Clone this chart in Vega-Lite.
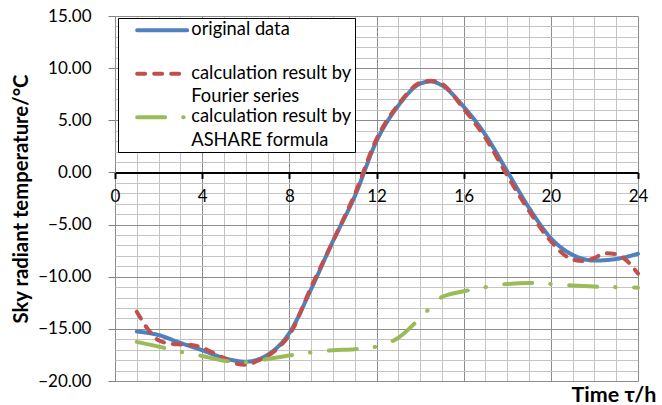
{
  "$schema": "https://vega.github.io/schema/vega-lite/v6.json",
  "width": 523,
  "height": 365,
  "autosize": {"type": "none"},
  "padding": {"left": 115, "top": 16, "right": 24, "bottom": 24},
  "background": "white",
  "config": {
    "view": {"stroke": null},
    "font": "Lato",
    "legend": {
      "orient": "none",
      "legendX": 3,
      "legendY": 2,
      "fillColor": "white",
      "strokeColor": "black",
      "padding": 3,
      "symbolType": "M-5,0H5",
      "symbolSize": 100,
      "symbolStrokeWidth": 4,
      "symbolOffset": 32,
      "labelOffset": 20,
      "labelFont": "Lato",
      "labelFontSize": 18.3,
      "labelColor": "black",
      "labelBaseline": "alphabetic",
      "labelLimit": 400,
      "rowPadding": 1.5
    }
  },
  "data": {
    "values": [
      {"t": 1, "s": "original data", "v": -15.25},
      {"t": 2, "s": "original data", "v": -15.6},
      {"t": 3, "s": "original data", "v": -16.35},
      {"t": 4, "s": "original data", "v": -17.05},
      {"t": 5, "s": "original data", "v": -17.8},
      {"t": 6, "s": "original data", "v": -18.15},
      {"t": 7, "s": "original data", "v": -17.5},
      {"t": 8, "s": "original data", "v": -15.4},
      {"t": 9, "s": "original data", "v": -11.2},
      {"t": 10, "s": "original data", "v": -6.6},
      {"t": 11, "s": "original data", "v": -2.3},
      {"t": 12, "s": "original data", "v": 3.0},
      {"t": 13, "s": "original data", "v": 6.4},
      {"t": 14, "s": "original data", "v": 8.5},
      {"t": 14.5, "s": "original data", "v": 8.72},
      {"t": 15, "s": "original data", "v": 8.35},
      {"t": 16, "s": "original data", "v": 6.3},
      {"t": 17, "s": "original data", "v": 3.6},
      {"t": 18, "s": "original data", "v": 0.1},
      {"t": 19, "s": "original data", "v": -3.4},
      {"t": 20, "s": "original data", "v": -6.3},
      {"t": 21, "s": "original data", "v": -7.9},
      {"t": 22, "s": "original data", "v": -8.45},
      {"t": 23, "s": "original data", "v": -8.3},
      {"t": 24, "s": "original data", "v": -7.8},
      {"t": 1, "s": "Fourier series", "v": -13.35},
      {"t": 1.5, "s": "Fourier series", "v": -15.0},
      {"t": 2, "s": "Fourier series", "v": -16.1},
      {"t": 2.5, "s": "Fourier series", "v": -16.4},
      {"t": 3, "s": "Fourier series", "v": -16.5},
      {"t": 3.5, "s": "Fourier series", "v": -16.55},
      {"t": 4, "s": "Fourier series", "v": -16.8},
      {"t": 4.5, "s": "Fourier series", "v": -17.3},
      {"t": 5, "s": "Fourier series", "v": -17.8},
      {"t": 5.5, "s": "Fourier series", "v": -18.3},
      {"t": 6, "s": "Fourier series", "v": -18.45},
      {"t": 6.5, "s": "Fourier series", "v": -18.1},
      {"t": 7, "s": "Fourier series", "v": -17.6},
      {"t": 7.5, "s": "Fourier series", "v": -16.8},
      {"t": 8, "s": "Fourier series", "v": -15.6},
      {"t": 9, "s": "Fourier series", "v": -11.0},
      {"t": 10, "s": "Fourier series", "v": -6.6},
      {"t": 11, "s": "Fourier series", "v": -2.1},
      {"t": 12, "s": "Fourier series", "v": 3.2},
      {"t": 13, "s": "Fourier series", "v": 6.5},
      {"t": 14, "s": "Fourier series", "v": 8.6},
      {"t": 14.5, "s": "Fourier series", "v": 8.8},
      {"t": 15, "s": "Fourier series", "v": 8.5},
      {"t": 16, "s": "Fourier series", "v": 6.1},
      {"t": 17, "s": "Fourier series", "v": 3.3},
      {"t": 18, "s": "Fourier series", "v": -0.3},
      {"t": 19, "s": "Fourier series", "v": -3.7},
      {"t": 20, "s": "Fourier series", "v": -6.6},
      {"t": 20.5, "s": "Fourier series", "v": -7.7},
      {"t": 21, "s": "Fourier series", "v": -8.35},
      {"t": 21.5, "s": "Fourier series", "v": -8.5},
      {"t": 22, "s": "Fourier series", "v": -8.2},
      {"t": 22.5, "s": "Fourier series", "v": -7.75},
      {"t": 23, "s": "Fourier series", "v": -7.85},
      {"t": 23.5, "s": "Fourier series", "v": -8.5},
      {"t": 24, "s": "Fourier series", "v": -9.7},
      {"t": 1, "s": "ASHARE formula", "v": -16.25},
      {"t": 2, "s": "ASHARE formula", "v": -16.7},
      {"t": 3, "s": "ASHARE formula", "v": -17.2},
      {"t": 4, "s": "ASHARE formula", "v": -17.6},
      {"t": 5, "s": "ASHARE formula", "v": -18.05},
      {"t": 6, "s": "ASHARE formula", "v": -18.2},
      {"t": 7, "s": "ASHARE formula", "v": -17.9},
      {"t": 8, "s": "ASHARE formula", "v": -17.55},
      {"t": 9, "s": "ASHARE formula", "v": -17.25},
      {"t": 10, "s": "ASHARE formula", "v": -17.05},
      {"t": 11, "s": "ASHARE formula", "v": -16.95},
      {"t": 12, "s": "ASHARE formula", "v": -16.7},
      {"t": 13, "s": "ASHARE formula", "v": -15.85},
      {"t": 14, "s": "ASHARE formula", "v": -13.95},
      {"t": 14.5, "s": "ASHARE formula", "v": -12.9},
      {"t": 15, "s": "ASHARE formula", "v": -11.95},
      {"t": 16, "s": "ASHARE formula", "v": -11.4},
      {"t": 17, "s": "ASHARE formula", "v": -11.0},
      {"t": 18, "s": "ASHARE formula", "v": -10.7},
      {"t": 19, "s": "ASHARE formula", "v": -10.6},
      {"t": 20, "s": "ASHARE formula", "v": -10.7},
      {"t": 21, "s": "ASHARE formula", "v": -10.85},
      {"t": 22, "s": "ASHARE formula", "v": -10.95},
      {"t": 23, "s": "ASHARE formula", "v": -11.0},
      {"t": 24, "s": "ASHARE formula", "v": -11.05}
    ]
  },
  "encoding": {
    "color": {
      "field": "s",
      "type": "nominal",
      "scale": {
        "domain": ["original data", "Fourier series", "ASHARE formula"],
        "range": ["#4F81BD", "#C0504D", "#9BBB59"]
      },
      "legend": {
        "title": null,
        "labelExpr": "datum.label == 'original data' ? ['original data', ''] : ['calculation result by      ', datum.label]",
        "encode": {
          "labels": {"update": {"dy": {"value": 5}, "lineHeight": {"value": 23.5}}},
          "symbols": {"update": {"strokeCap": {"value": "round"}}}
        }
      }
    },
    "strokeDash": {
      "field": "s",
      "type": "nominal",
      "scale": {
        "domain": ["original data", "Fourier series", "ASHARE formula"],
        "range": [[1, 0], [8, 9], [28, 18, 0.5, 18.5]]
      },
      "legend": {
        "title": null,
        "labelExpr": "datum.label == 'original data' ? ['original data', ''] : ['calculation result by      ', datum.label]",
        "encode": {
          "labels": {"update": {"dy": {"value": 5}, "lineHeight": {"value": 23.5}}},
          "symbols": {"update": {"strokeCap": {"value": "round"}}}
        }
      }
    }
  },
  "layer": [
    {
      "transform": [{"filter": "datum.s == 'original data'"}],
      "mark": {"type": "line", "strokeWidth": 4, "interpolate": "monotone", "strokeCap": "round", "strokeJoin": "round"},
      "encoding": {
        "x": {
          "field": "t", "type": "quantitative",
          "scale": {"domain": [0, 24], "nice": false, "zero": false},
          "axis": {
            "orient": "bottom",
            "values": [0,1,2,3,4,5,6,7,8,9,10,11,12,13,14,15,16,17,18,19,20,21,22,23,24],
            "grid": true, "gridColor": "#c4c4c4", "gridWidth": 1,
            "domain": false, "ticks": false, "labels": false,
            "title": "Time τ/h",
            "titleFont": "Lato", "titleFontSize": 21.5, "titleFontWeight": "bold", "titleColor": "black",
            "titleX": 541, "titleAlign": "right", "titleBaseline": "alphabetic", "titlePadding": 20
          }
        },
        "y": {
          "field": "v", "type": "quantitative",
          "scale": {"domain": [-20, 15], "nice": false, "zero": false},
          "axis": {
            "orient": "left",
            "values": [-20,-19,-18,-17,-16,-15,-14,-13,-12,-11,-10,-9,-8,-7,-6,-5,-4,-3,-2,-1,0,1,2,3,4,5,6,7,8,9,10,11,12,13,14,15],
            "grid": true, "gridColor": "#c4c4c4", "gridWidth": 1,
            "domain": false, "ticks": false, "labels": false, "title": null
          }
        }
      }
    },
    {
      "transform": [{"filter": "datum.s == 'Fourier series'"}],
      "mark": {"type": "line", "strokeWidth": 4, "interpolate": "monotone", "strokeCap": "round", "strokeJoin": "round"},
      "encoding": {
        "x": {
          "field": "t", "type": "quantitative",
          "axis": {
            "orient": "bottom",
            "values": [0, 4, 8, 12, 16, 20, 24],
            "grid": true, "gridColor": "#8c8c8c", "gridWidth": 1,
            "domain": false, "ticks": false, "labels": false, "title": null
          }
        },
        "y": {
          "field": "v", "type": "quantitative",
          "axis": {
            "orient": "left",
            "values": [-20, -15, -10, -5, 0, 5, 10, 15],
            "grid": true, "gridColor": "#8c8c8c", "gridWidth": 1,
            "domain": false,
            "ticks": true, "tickColor": "#808080", "tickSize": 7, "tickWidth": 1,
            "labels": true, "format": ".2f", "labelFont": "Lato", "labelFontSize": 17, "labelColor": "black", "labelPadding": 17,
            "title": "Sky radiant temperature/°C",
            "titleFont": "Lato", "titleFontSize": 20.3, "titleFontWeight": "bold", "titleColor": "black", "titlePadding": 6
          }
        }
      }
    },
    {
      "transform": [{"filter": "datum.s == 'ASHARE formula'"}],
      "mark": {"type": "line", "strokeWidth": 4, "interpolate": "monotone", "strokeCap": "round", "strokeJoin": "round"},
      "encoding": {
        "x": {
          "field": "t", "type": "quantitative",
          "axis": {
            "orient": "bottom",
            "offset": -208.57,
            "values": [0, 4, 8, 12, 16, 20, 24],
            "grid": false,
            "domain": true, "domainColor": "black", "domainWidth": 2,
            "ticks": true, "tickColor": "black", "tickWidth": 2, "tickSize": 6,
            "labels": true, "labelFlush": false, "format": "d", "labelFont": "Lato", "labelFontSize": 17, "labelColor": "black", "labelPadding": 10,
            "title": null
          }
        },
        "y": {"field": "v", "type": "quantitative", "axis": null}
      }
    }
  ],
  "resolve": {"axis": {"x": "independent", "y": "independent"}}
}
